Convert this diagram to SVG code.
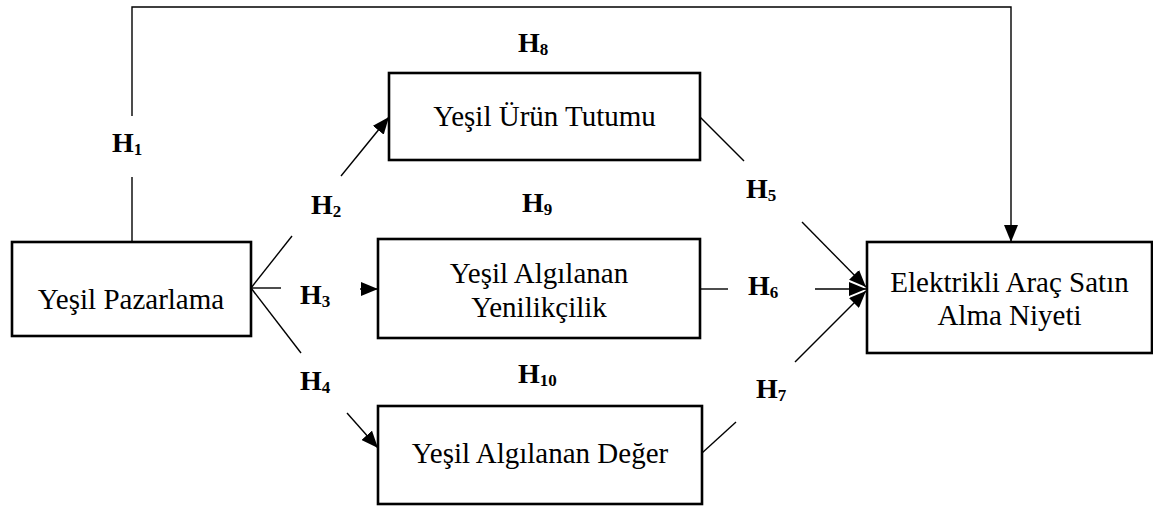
<svg xmlns="http://www.w3.org/2000/svg" width="1153" height="507" viewBox="0 0 1153 507">
<defs>
<marker id="arr" markerUnits="userSpaceOnUse" markerWidth="18" markerHeight="14" refX="17" refY="7" orient="auto">
<path d="M0,0 L17,7 L0,14 Z" fill="#000"/>
</marker>
<style>
.box{fill:#fff;stroke:#000;stroke-width:2.6}
.t{font-family:"Liberation Serif","Times New Roman",serif;font-size:29px;fill:#000;text-anchor:middle}
.h{font-family:"Liberation Serif","Times New Roman",serif;font-size:28px;font-weight:bold;fill:#000}
.s{font-size:17px}
.c{fill:none;stroke:#000;stroke-width:1.4}
</style>
</defs>
<rect width="1153" height="507" fill="#fff"/>
<g id="connectors">
<path class="c" d="M132,116 V7 H1011 V242" marker-end="url(#arr)"/>
<path class="c" d="M132,177 V242"/>
<path class="c" d="M251,288 L292,236"/>
<path class="c" d="M341,176 L389,117" marker-end="url(#arr)"/>
<path class="c" d="M251,288 L281,288"/>
<path class="c" d="M360,289 L378,289" marker-end="url(#arr)"/>
<path class="c" d="M251,288 L301,353"/>
<path class="c" d="M347,413 L378,448" marker-end="url(#arr)"/>
<path class="c" d="M700,117 L744,161"/>
<path class="c" d="M802,222 L866,287" marker-end="url(#arr)"/>
<path class="c" d="M700,289 L728,289"/>
<path class="c" d="M815,289 L866,289" marker-end="url(#arr)"/>
<path class="c" d="M702,453 L736,422"/>
<path class="c" d="M795,362 L866,291" marker-end="url(#arr)"/>
</g>
<g id="labels">
<text class="h" x="112" y="152">H<tspan class="s" dy="3">1</tspan></text>
<text class="h" x="311" y="214">H<tspan class="s" dy="3">2</tspan></text>
<text class="h" x="300" y="304">H<tspan class="s" dy="3">3</tspan></text>
<text class="h" x="300" y="390">H<tspan class="s" dy="3">4</tspan></text>
<text class="h" x="746" y="198">H<tspan class="s" dy="3">5</tspan></text>
<text class="h" x="748" y="295">H<tspan class="s" dy="3">6</tspan></text>
<text class="h" x="756" y="398">H<tspan class="s" dy="3">7</tspan></text>
<text class="h" x="518" y="52">H<tspan class="s" dy="3">8</tspan></text>
<text class="h" x="522" y="212">H<tspan class="s" dy="3">9</tspan></text>
<text class="h" x="518" y="383">H<tspan class="s" dy="3">10</tspan></text>
</g>
<g id="yesil-pazarlama">
<rect class="box" x="12" y="242" width="239" height="94"/>
<text class="t" x="131" y="309">Yeşil Pazarlama</text>
</g>
<g id="yesil-urun-tutumu">
<rect class="box" x="389" y="73" width="311" height="87"/>
<text class="t" x="544.5" y="126">Yeşil Ürün Tutumu</text>
</g>
<g id="yesil-algilanan-yenilikcilik">
<rect class="box" x="378" y="239" width="322" height="99"/>
<text class="t" x="539" y="283">Yeşil Algılanan</text>
<text class="t" x="539" y="317">Yenilikçilik</text>
</g>
<g id="yesil-algilanan-deger">
<rect class="box" x="378" y="406" width="324" height="98"/>
<text class="t" x="540" y="463">Yeşil Algılanan Değer</text>
</g>
<g id="elektrikli-arac">
<rect class="box" x="867" y="242" width="285" height="111"/>
<text class="t" x="1009.5" y="292">Elektrikli Araç Satın</text>
<text class="t" x="1009.5" y="325">Alma Niyeti</text>
</g>
</svg>
